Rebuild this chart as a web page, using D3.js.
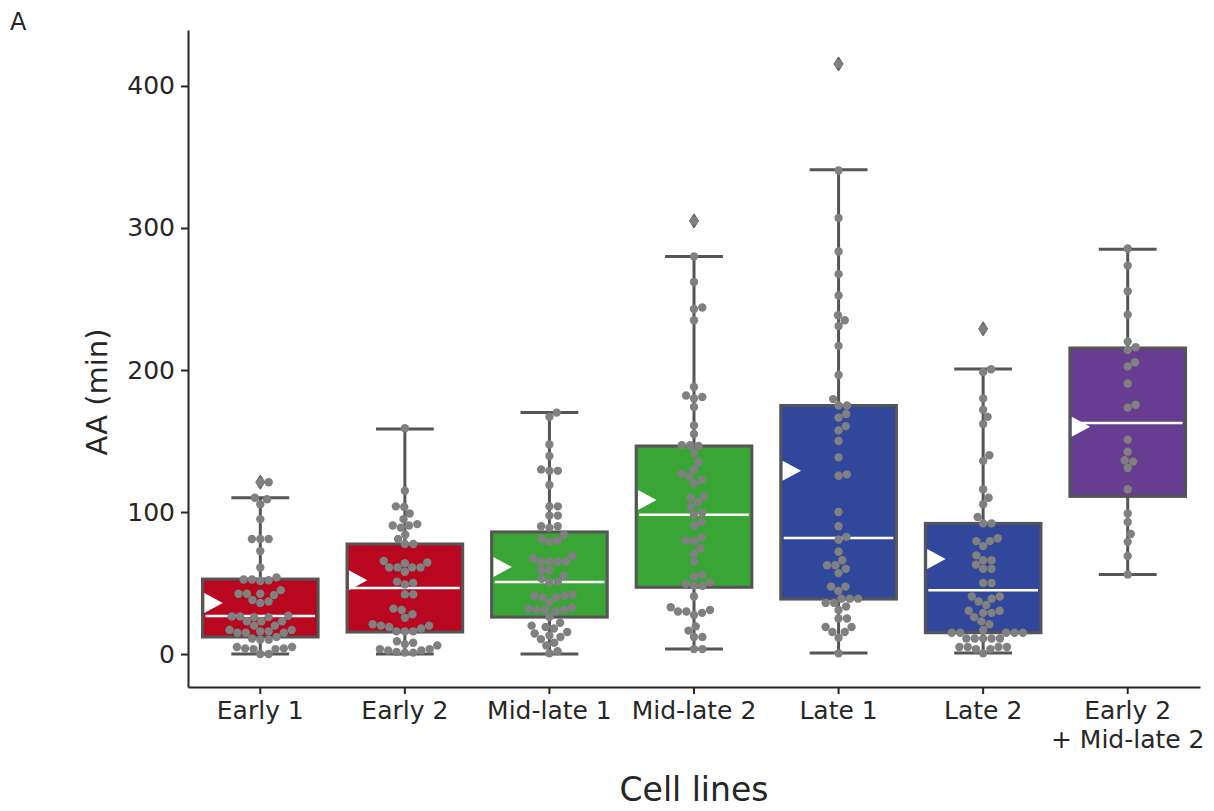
<!DOCTYPE html>
<html>
<head>
<meta charset="utf-8">
<script src="https://cdnjs.cloudflare.com/ajax/libs/d3/7.8.5/d3.min.js"></script>
<style>
  body { margin: 0; background: #fff; }
  text { font-family: "DejaVu Sans", sans-serif; fill: #262626; }
</style>
</head>
<body>
<div id="chart"></div>
<script>
// categories and box statistics
var categories = ["Early 1", "Early 2", "Mid-late 1", "Mid-late 2", "Late 1", "Late 2", "Early 2\n+ Mid-late 2"];
var boxColors = ["#b8071e", "#b8071e", "#38a535", "#38a535", "#30479c", "#30479c", "#673d91"];

var q1 = [12, 15.5, 26, 47, 38.7, 15, 111];
var medians = [26.8, 46.5, 50.7, 98, 81.7, 45, 162.7];
var q3 = [52.8, 77.5, 86, 146.5, 175, 92, 215.5];
var whiskerLow = [0, 0, 0, 3.5, 0.7, 0.7, 56];
var whiskerHigh = [110, 158.5, 170, 280, 341, 200.7, 285];
var means = [36, 52, 61.3, 108.5, 129, 67, 160];
var outliers = [[121], [], [], [305], [415.5], [229], []];

var yTicks = [0, 100, 200, 300, 400];

// individual observations (swarm points)
var pointsEarly1 = [121, 121, 110, 109, 105.5, 95, 81, 81, 81, 72.5, 61, 54, 52, 51.5, 52.5, 52.5, 45, 42.5, 42.5, 42.5, 41.5,
  37, 36, 38, 27, 26.5, 26.5, 26, 26, 23, 23, 23, 20, 20, 17, 17, 16, 16, 15, 15, 15, 12, 11, 10, 10, 5, 4, 3.5, 3.5, 4, 5, 0, 0];
var pointsEarly2 = [159, 115, 104, 103.5, 99, 95, 90.5, 90.5, 91.5, 89, 84, 81, 77.5, 77.5, 65.5, 64.5, 64, 61, 61, 61, 61, 58,
  50, 49, 51, 42, 42, 31, 32, 28, 25.5, 21, 20, 18, 20, 19, 16, 16, 16, 9, 7, 8, 6, 3.5, 2.5, 1, 1, 1.5, 2.5, 3.5];
var pointsMidLate1 = [170, 167, 147.5, 139.5, 129, 129, 130, 119, 104, 104, 97.5, 97.5, 90, 89, 90, 84, 81, 80, 79, 69, 67.5,
  65, 65, 65, 65, 59, 59, 55, 53, 51, 50.5, 42, 41, 40, 41, 40, 36.5, 33, 31, 31, 32, 30, 31, 26, 22, 20, 18, 19, 15.5, 14.5,
  13, 12, 10.5, 8, 6, 2, 0.5];
var pointsMidLate2 = [305, 280, 262, 244, 243, 235, 188, 182, 181, 180, 174, 161, 155, 147, 147, 146.5, 141.5, 135, 130, 127,
  125, 122.5, 120, 111, 110, 107, 103.5, 99.5, 98, 93, 90.5, 82, 80, 79.5, 74.5, 71, 65, 56, 54.5, 50.5, 48, 48, 49.5, 40.5,
  33, 31, 29, 30, 30, 27.5, 19.5, 16.5, 12, 12, 3.5, 3.5];
var pointsLate1 = [415.5, 340.5, 307, 283.5, 267.5, 252.5, 238.5, 235, 231, 217, 196.5, 179.5, 175, 175, 169, 166.5, 160.5,
  157.5, 150, 138.5, 126.5, 125.5, 100, 90, 82.5, 80.5, 72, 66, 62.5, 62.5, 60, 57, 47.5, 47.5, 44.5, 39, 39, 39, 36, 36,
  33.5, 31, 25, 25, 19, 19, 15.5, 15.5, 11.5, 0.5];
var pointsLate2 = [229, 200.5, 198.5, 180, 172, 167, 162, 140, 136, 116, 110, 105.5, 96.5, 92, 92, 81.5, 79.5, 79.5, 76,
  69.5, 66, 66, 63, 60, 60, 50, 50, 40.5, 40.5, 39, 37, 34.5, 30.5, 30.5, 29, 29, 26, 23, 21, 17, 15, 15, 15, 15, 15, 11,
  11, 11, 11, 11, 5, 5, 5, 5, 3.5, 3.5, 0.5];
var pointsCombined = [285.5, 273.5, 255.5, 239, 220, 216, 214, 205.5, 202.5, 190.5, 175.5, 173.5, 151, 142.5, 136.5, 135.5,
  131, 116, 99, 93, 84.5, 79, 69, 56];

var allPoints = [pointsEarly1, pointsEarly2, pointsMidLate1, pointsMidLate2, pointsLate1, pointsLate2, pointsCombined];

var width = 1214, height = 811;
var margin = {top: 30, right: 14, bottom: 124, left: 188};

var svg = d3.select("#chart")
    .append("svg")
    .attr("width", width)
    .attr("height", height);

var x = d3.scaleBand()
    .domain(categories)
    .range([margin.left, width - margin.right])
    .padding(0);

var y = d3.scaleLinear()
    .domain([-23.2, 439.4])
    .range([height - margin.bottom, margin.top]);

var step = x.step();
var boxW = step * 0.8;
var capW = step * 0.4;
var lineColor = "#555555";

// axes
var yAxis = svg.append("g")
    .attr("transform", "translate(" + margin.left + ",0)")
    .call(d3.axisLeft(y).tickValues(yTicks).tickSizeInner(7).tickSizeOuter(0).tickPadding(6));
var xAxis = svg.append("g")
    .attr("transform", "translate(0," + (height - margin.bottom) + ")")
    .call(d3.axisBottom(x).tickSizeInner(7).tickSizeOuter(0).tickPadding(7));

[yAxis, xAxis].forEach(function (ax) {
    ax.select(".domain").attr("stroke", "#262626").attr("stroke-width", 2);
    ax.selectAll(".tick line").attr("stroke", "#262626").attr("stroke-width", 2);
    ax.selectAll(".tick text").attr("font-size", "25px").attr("fill", "#262626")
        .style("font-family", "DejaVu Sans, sans-serif");
});

// multi-line category labels
xAxis.selectAll(".tick text").each(function (d) {
    var lines = d.split("\n");
    var t = d3.select(this).text(null);
    lines.forEach(function (l, i) {
        t.append("tspan").attr("x", 0).attr("dy", i === 0 ? "0.71em" : "1.15em").text(l);
    });
});

var groups = svg.append("g").selectAll("g.cat")
    .data(categories)
    .enter().append("g")
    .attr("class", "cat");

groups.each(function (c, i) {
    var g = d3.select(this);
    var cx = x(c) + step / 2;

    // whiskers
    g.append("line")
        .attr("x1", cx).attr("x2", cx)
        .attr("y1", y(whiskerLow[i])).attr("y2", y(q1[i]))
        .attr("stroke", lineColor).attr("stroke-width", 3);
    g.append("line")
        .attr("x1", cx).attr("x2", cx)
        .attr("y1", y(q3[i])).attr("y2", y(whiskerHigh[i]))
        .attr("stroke", lineColor).attr("stroke-width", 3);
    [whiskerLow[i], whiskerHigh[i]].forEach(function (v) {
        g.append("line")
            .attr("x1", cx - capW / 2).attr("x2", cx + capW / 2)
            .attr("y1", y(v)).attr("y2", y(v))
            .attr("stroke", lineColor).attr("stroke-width", 3);
    });

    // box
    g.append("rect")
        .attr("x", cx - boxW / 2)
        .attr("y", y(q3[i]))
        .attr("width", boxW)
        .attr("height", y(q1[i]) - y(q3[i]))
        .attr("fill", boxColors[i])
        .attr("stroke", lineColor)
        .attr("stroke-width", 3);

    // median
    g.append("line")
        .attr("x1", cx - boxW / 2 + 3).attr("x2", cx + boxW / 2 - 3)
        .attr("y1", y(medians[i])).attr("y2", y(medians[i]))
        .attr("stroke", "#ffffff").attr("stroke-width", 2.5);

    // outliers (diamonds)
    outliers[i].forEach(function (v) {
        var oy = y(v);
        g.append("path")
            .attr("d", "M" + cx + "," + (oy - 7) + "L" + (cx + 4.5) + "," + oy + "L" + cx + "," + (oy + 7) + "L" + (cx - 4.5) + "," + oy + "Z")
            .attr("fill", "#6e6e6e")
            .attr("stroke", "#555555")
            .attr("stroke-width", 1);
    });
});

// swarm layout: place each point at the nearest free offset from the centre
function swarm(values, diameter) {
    var sorted = values.map(function (v) { return {v: v, py: y(v)}; })
        .sort(function (a, b) { return b.py - a.py; });
    var placed = [];
    sorted.forEach(function (p) {
        var cands = [0];
        placed.forEach(function (q) {
            var dy = Math.abs(q.py - p.py);
            if (dy < diameter) {
                var dx = Math.sqrt(diameter * diameter - dy * dy);
                cands.push(q.dx + dx, q.dx - dx);
            }
        });
        cands.sort(function (a, b) { return Math.abs(a) - Math.abs(b); });
        for (var k = 0; k < cands.length; k++) {
            var ok = placed.every(function (q) {
                var ddx = q.dx - cands[k], ddy = q.py - p.py;
                return ddx * ddx + ddy * ddy >= diameter * diameter - 0.01;
            });
            if (ok) { p.dx = cands[k]; break; }
        }
        placed.push(p);
    });
    return placed;
}

groups.each(function (c, i) {
    var g = d3.select(this);
    var cx = x(c) + step / 2;
    g.selectAll("circle.pt")
        .data(swarm(allPoints[i], 8.4))
        .enter().append("circle")
        .attr("class", "pt")
        .attr("cx", function (d) { return cx + d.dx; })
        .attr("cy", function (d) { return d.py; })
        .attr("r", 4.2)
        .attr("fill", "#808080");

    // mean marker (white right-pointing triangle)
    var mx = cx - step * 0.325, my = y(means[i]);
    g.append("path")
        .attr("d", "M" + (mx - 9) + "," + (my - 10) + "L" + (mx + 9.5) + "," + my + "L" + (mx - 9) + "," + (my + 10) + "Z")
        .attr("fill", "#ffffff");
});

// axis titles
svg.append("text")
    .attr("transform", "translate(97,392) rotate(-90)")
    .attr("text-anchor", "middle")
    .attr("dy", "0.35em")
    .attr("font-size", "29px")
    .text("AA (min)");

svg.append("text")
    .attr("x", (margin.left + width - margin.right) / 2)
    .attr("y", 801)
    .attr("text-anchor", "middle")
    .attr("font-size", "33px")
    .text("Cell lines");

svg.append("text")
    .attr("x", 10)
    .attr("y", 30)
    .attr("font-size", "24px")
    .text("A");
</script>
</body>
</html>
